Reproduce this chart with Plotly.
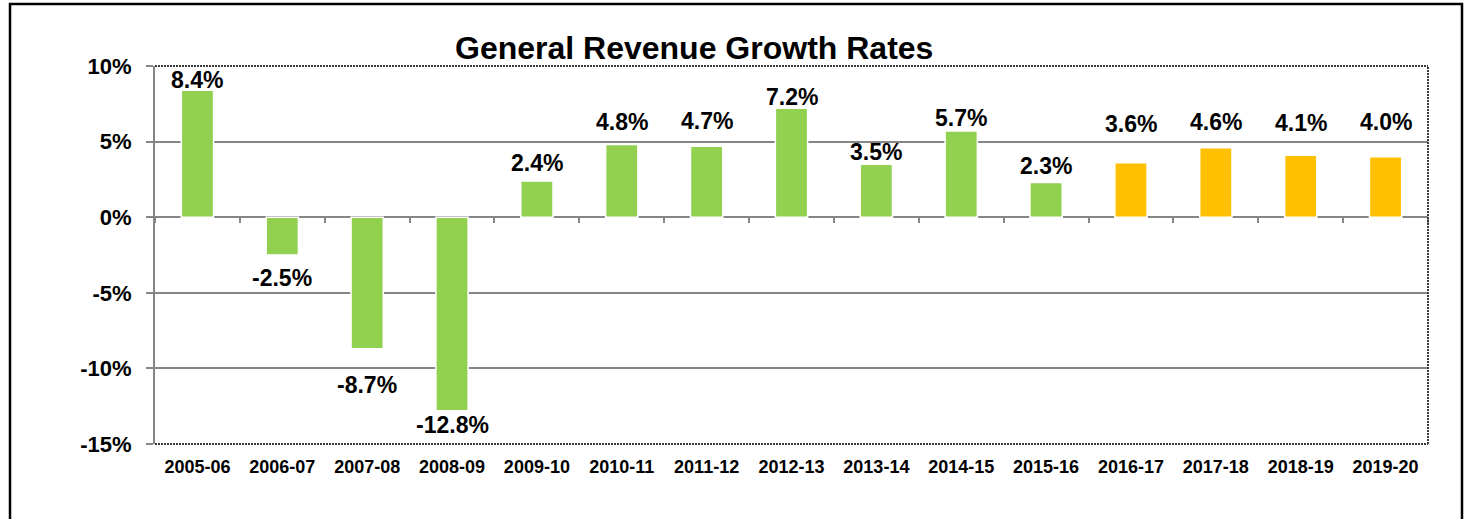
import plotly.graph_objects as go

# ---- data ----
years = ["2005-06", "2006-07", "2007-08", "2008-09", "2009-10", "2010-11", "2011-12",
         "2012-13", "2013-14", "2014-15", "2015-16", "2016-17", "2017-18", "2018-19", "2019-20"]
growth_pct = [8.4, -2.5, -8.7, -12.8, 2.4, 4.8, 4.7, 7.2, 3.5, 5.7, 2.3, 3.6, 4.6, 4.1, 4.0]
is_projection = [False] * 11 + [True] * 4
y_ticks = [-15, -10, -5, 0, 5, 10]
y_tick_text = [f"{v}%" for v in y_ticks]

# ---- styling ----
GREEN = "#92D050"
ORANGE = "#FFC000"
GRAY = "#868686"
FONT = "Arial, 'Liberation Sans', sans-serif"
bar_colors = [ORANGE if p else GREEN for p in is_projection]
# pixel gap between bar end and its label (label placement as in the original)
label_gap_px = [5, 13, 26, 4, 13, 18, 20, 6, 7, 8, 11, 34, 21, 27, 30]

W, H = 1470, 519
L, R, T, B = 155, 42, 66, 75
pw, ph = W - L - R, H - T - B
ymin, ymax = -15, 10

fig = go.Figure()
fig.add_trace(go.Bar(
    x=years, y=growth_pct, marker=dict(color=bar_colors, line=dict(color="white", width=1.5)),
    width=0.38, hoverinfo="x+y", showlegend=False,
))
# helper trace for the category tick marks drawn on the zero line
fig.add_trace(go.Scatter(
    x=years, y=growth_pct, xaxis="x2", mode="markers",
    marker=dict(opacity=0), hoverinfo="skip", showlegend=False,
))

for yr, v, gap in zip(years, growth_pct, label_gap_px):
    if v >= 0:
        fig.add_annotation(x=yr, y=v, text=f"{v:.1f}%", showarrow=False,
                           yanchor="bottom", yshift=gap - 10,
                           font=dict(family=FONT, size=23, color="black", weight="bold"))
    else:
        fig.add_annotation(x=yr, y=v, text=f"{v:.1f}%", showarrow=False,
                           yanchor="top", yshift=-(gap - 5),
                           font=dict(family=FONT, size=23, color="black", weight="bold"))

# title
fig.add_annotation(xref="paper", yref="paper", x=(693.5 - L) / pw, y=(H - B - 48) / ph,
                   text="General Revenue Growth Rates", showarrow=False,
                   xanchor="center", yanchor="middle",
                   font=dict(family=FONT, size=32, color="black", weight="bold"))

# plot-area border: top, right, bottom dotted dark lines
border = dict(color="#3a3a3a", width=2, dash="2px,1px")
for x0, y0, x1, y1 in [(0, 1, 1, 1), (1, 0, 1, 1), (0, 0, 1, 0)]:
    fig.add_shape(type="line", xref="paper", yref="paper", x0=x0, y0=y0, x1=x1, y1=y1,
                  line=border, layer="above")
# outer chart frame
fig.add_shape(type="rect", xref="paper", yref="paper",
              x0=(10 - L) / pw, x1=(1462 - L) / pw, y0=(H - B - 540) / ph, y1=(H - B - 4) / ph,
              line=dict(color="black", width=2.5), layer="above")

fig.update_layout(
    width=W, height=H,
    margin=dict(l=L, r=R, t=T, b=B),
    paper_bgcolor="white", plot_bgcolor="white",
    xaxis=dict(type="category", categoryorder="array", categoryarray=years,
               range=[-0.5, len(years) - 0.5], showgrid=False, showline=False, ticks="",
               zeroline=False, ticklabelstandoff=10,
               tickfont=dict(family=FONT, size=18, color="black", weight="bold")),
    xaxis2=dict(type="category", categoryorder="array", categoryarray=years,
                range=[-0.5, len(years) - 0.5], overlaying="x", anchor="free",
                position=(0 - ymin) / (ymax - ymin), side="bottom",
                showgrid=False, showline=False, showticklabels=False,
                ticks="outside", ticklen=5, tickwidth=2, tickcolor=GRAY, tickson="boundaries"),
    yaxis=dict(range=[ymin, ymax], tickmode="array", tickvals=y_ticks, ticktext=y_tick_text,
               showgrid=True, gridcolor=GRAY, gridwidth=2,
               zeroline=True, zerolinecolor=GRAY, zerolinewidth=2,
               showline=True, linecolor=GRAY, linewidth=2,
               ticks="outside", ticklen=7, tickwidth=2, tickcolor=GRAY,
               ticklabelstandoff=10,
               tickfont=dict(family=FONT, size=22, color="black", weight="bold")),
)

fig.write_html("out.html", config={"displayModeBar": False},
               post_script="document.body.style.margin='0';")
